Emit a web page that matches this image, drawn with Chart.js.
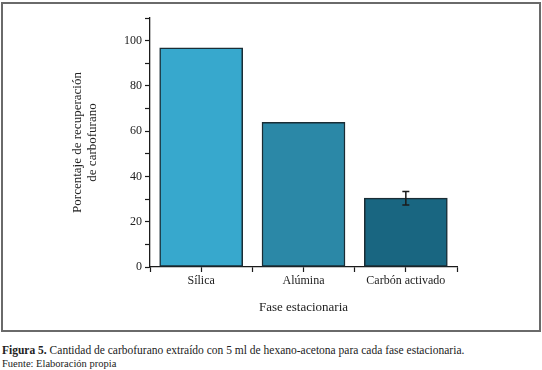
<!DOCTYPE html>
<html>
<head>
<meta charset="utf-8">
<script src="https://cdn.jsdelivr.net/npm/chart.js@4.4.1/dist/chart.umd.min.js"></script>
<style>
  html, body { margin: 0; padding: 0; background: #fff; }
  body { width: 542px; height: 370px; position: relative; overflow: hidden; font-family: "Liberation Serif", "DejaVu Serif", serif; color: #222; }
  #frame { position: absolute; left: 1px; top: 2px; width: 540px; height: 330px; box-sizing: border-box; border: 2px solid #6a6a6a; }
  #wrap { position: absolute; left: 0; top: 0; width: 542px; height: 332px; }
  #caption { position: absolute; left: 2px; top: 344px; font-size: 11.5px; line-height: 13px; white-space: nowrap; }
  #caption .src { font-size: 10.5px; }
</style>
</head>
<body>
<div id="frame"></div>
<div id="wrap"><canvas id="barChart" width="542" height="332"></canvas></div>
<div id="caption">
  <div><b>Figura 5.</b> Cantidad de carbofurano extraído con 5 ml de hexano-acetona para cada fase estacionaria.</div>
  <div class="src">Fuente: Elaboración propia</div>
</div>
<script>
// data
const categories = ['Sílica', 'Alúmina', 'Carbón activado'];
const recovery = [96.8, 63.9, 30.4];     // % recuperación
const errors = [0, 0, 3.0];              // error bar (+/-)
const barColors = ['#37a8cd', '#2b88a7', '#196681'];
const yTicks = [0, 20, 40, 60, 80, 100];

// error bars drawn from the y scale
const errorBarPlugin = {
    id: 'errorBars',
    afterDatasetsDraw(chart) {
        const ctx = chart.ctx;
        const meta = chart.getDatasetMeta(0);
        const yScale = chart.scales.y;
        ctx.save();
        ctx.strokeStyle = '#1b1b1b';
        ctx.lineWidth = 1.5;
        meta.data.forEach((bar, i) => {
            if (!errors[i]) return;
            const x = bar.x;
            const yTop = yScale.getPixelForValue(recovery[i] + errors[i]);
            const yBot = yScale.getPixelForValue(recovery[i] - errors[i]);
            ctx.beginPath();
            ctx.moveTo(x, yTop); ctx.lineTo(x, yBot);
            ctx.moveTo(x - 3.5, yTop); ctx.lineTo(x + 3.5, yTop);
            ctx.moveTo(x - 3.5, yBot); ctx.lineTo(x + 3.5, yBot);
            ctx.stroke();
        });
        ctx.restore();
    }
};

const canvas = document.getElementById('barChart');
const ctx = canvas.getContext('2d');

const barChart = new Chart(ctx, {
    type: 'bar',
    data: {
        datasets: [{
            data: recovery.map((v, i) => ({ x: i, y: v })),
            backgroundColor: barColors,
            borderColor: '#1a2d35',
            borderWidth: 1.5,
            borderSkipped: false,
            barThickness: 83
        }]
    },
    options: {
        responsive: false,
        animation: false,
        layout: { padding: { left: 70, right: 85, top: 18, bottom: 17 } },
        plugins: { legend: { display: false }, tooltip: { enabled: false } },
        scales: {
            x: {
                type: 'linear',
                min: -0.5,
                max: 2.5,
                offset: false,
                afterFit(scale) { scale.height = 48; },
                border: { display: true, color: '#1b1b1b', width: 1.3 },
                grid: { offset: false, drawOnChartArea: false, tickLength: 5, tickColor: '#1b1b1b', tickWidth: 1.2 },
                ticks: {
                    stepSize: 0.5,
                    autoSkip: false,
                    maxRotation: 0,
                    padding: 2,
                    color: '#222',
                    font: { family: 'Liberation Serif', size: 12 },
                    callback: (v) => Number.isInteger(v) ? categories[v] : ''
                },
                title: {
                    display: true,
                    text: 'Fase estacionaria',
                    color: '#222',
                    padding: 0,
                    font: { family: 'Liberation Serif', size: 13 }
                }
            },
            y: {
                min: 0,
                max: 110,
                afterFit(scale) { scale.width = 80; },
                border: { display: true, color: '#1b1b1b', width: 1.3 },
                grid: { drawOnChartArea: false, tickLength: 5, tickColor: '#1b1b1b', tickWidth: 1.2 },
                ticks: {
                    stepSize: 10,
                    padding: 3,
                    color: '#222',
                    font: { family: 'Liberation Serif', size: 12 },
                    callback: (v) => yTicks.includes(v) ? String(v) : ''
                },
                title: {
                    display: true,
                    text: ['Porcentaje de recuperación', 'de carbofurano'],
                    color: '#222',
                    padding: 0,
                    font: { family: 'Liberation Serif', size: 13, lineHeight: 1.15 }
                }
            }
        }
    },
    plugins: [errorBarPlugin]
});
</script>
</body>
</html>
